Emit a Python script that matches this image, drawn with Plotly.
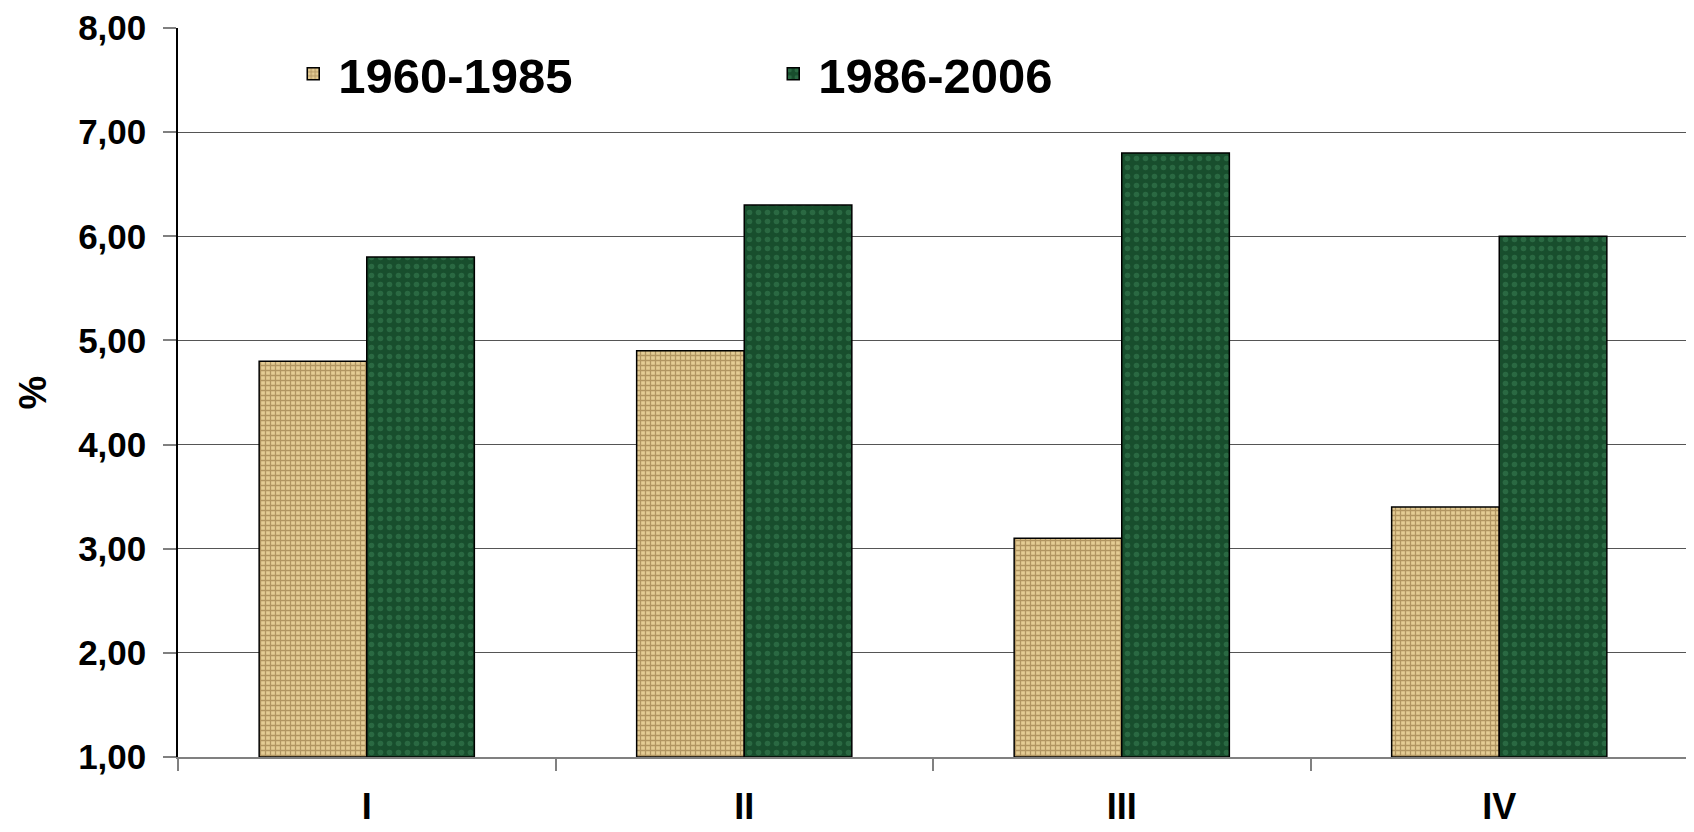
import plotly.graph_objects as go

categories = ["I", "II", "III", "IV"]
series_names = ["1960-1985", "1986-2006"]
values_1960_1985 = [4.8, 4.9, 3.1, 3.4]
values_1986_2006 = [5.8, 6.3, 6.8, 6.0]
y_tick_values = [1, 2, 3, 4, 5, 6, 7, 8]
axis_base = 1.0

FONT = "Arial, 'Liberation Sans', sans-serif"

fig = go.Figure()
fig.add_trace(go.Bar(
    name=series_names[0], x=categories,
    y=[v - axis_base for v in values_1960_1985], base=axis_base,
    marker=dict(color="#D2B67C",
                line=dict(color="#000000", width=1.5),
                pattern=dict(shape="+", fgcolor="#7E5E2E", bgcolor="#E4CC94",
                             size=5, solidity=0.45, fillmode="overlay")),
))
fig.add_trace(go.Bar(
    name=series_names[1], x=categories,
    y=[v - axis_base for v in values_1986_2006], base=axis_base,
    marker=dict(color="#1D5A33",
                line=dict(color="#000000", width=1.5),
                pattern=dict(shape=".", fgcolor="#3C8458", bgcolor="#184E2D",
                             size=9, solidity=0.3, fillmode="overlay")),
))

fig.update_layout(
    width=1686, height=824,
    barmode="group", bargap=0.43, bargroupgap=0,
    separators=",.",
    paper_bgcolor="#FFFFFF", plot_bgcolor="#FFFFFF",
    margin=dict(l=170, r=6, t=20, b=75, autoexpand=False),
    font=dict(family=FONT, size=36, color="#000000"),
    showlegend=True,
    legend=dict(orientation="h", x=0.073, y=0.937, xanchor="left", yanchor="middle",
                font=dict(family=FONT, size=49, color="#000000", weight="bold"),
                entrywidth=425, entrywidthmode="pixels",
                bgcolor="rgba(0,0,0,0)", itemwidth=40),
    xaxis=dict(type="category", tickson="boundaries", ticks="outside", ticklen=12,
               tickcolor="#808080", tickwidth=1.5, showgrid=False,
               showline=True, linecolor="#808080", linewidth=1.5,
               automargin=False, ticklabeloverflow="allow",
               ticklabelstandoff=17,
               tickfont=dict(family=FONT, size=36, color="#000000", weight="bold")),
    yaxis=dict(range=[1, 8], tickvals=y_tick_values, tickformat=".2f",
               ticks="outside", ticklen=13, tickcolor="#808080", tickwidth=1.5,
               showline=True, linecolor="#000000", linewidth=1.5,
               showgrid=True, gridcolor="#555555", gridwidth=1.2,
               zeroline=False, ticklabelstandoff=10,
               automargin=False, ticklabeloverflow="allow",
               tickfont=dict(family=FONT, size=35, color="#000000", weight="bold")),
)
fig.update_yaxes(title=dict(text="%", standoff=20,
                            font=dict(family=FONT, size=38, color="#000000", weight="bold")))

fig.write_html("out.html")
